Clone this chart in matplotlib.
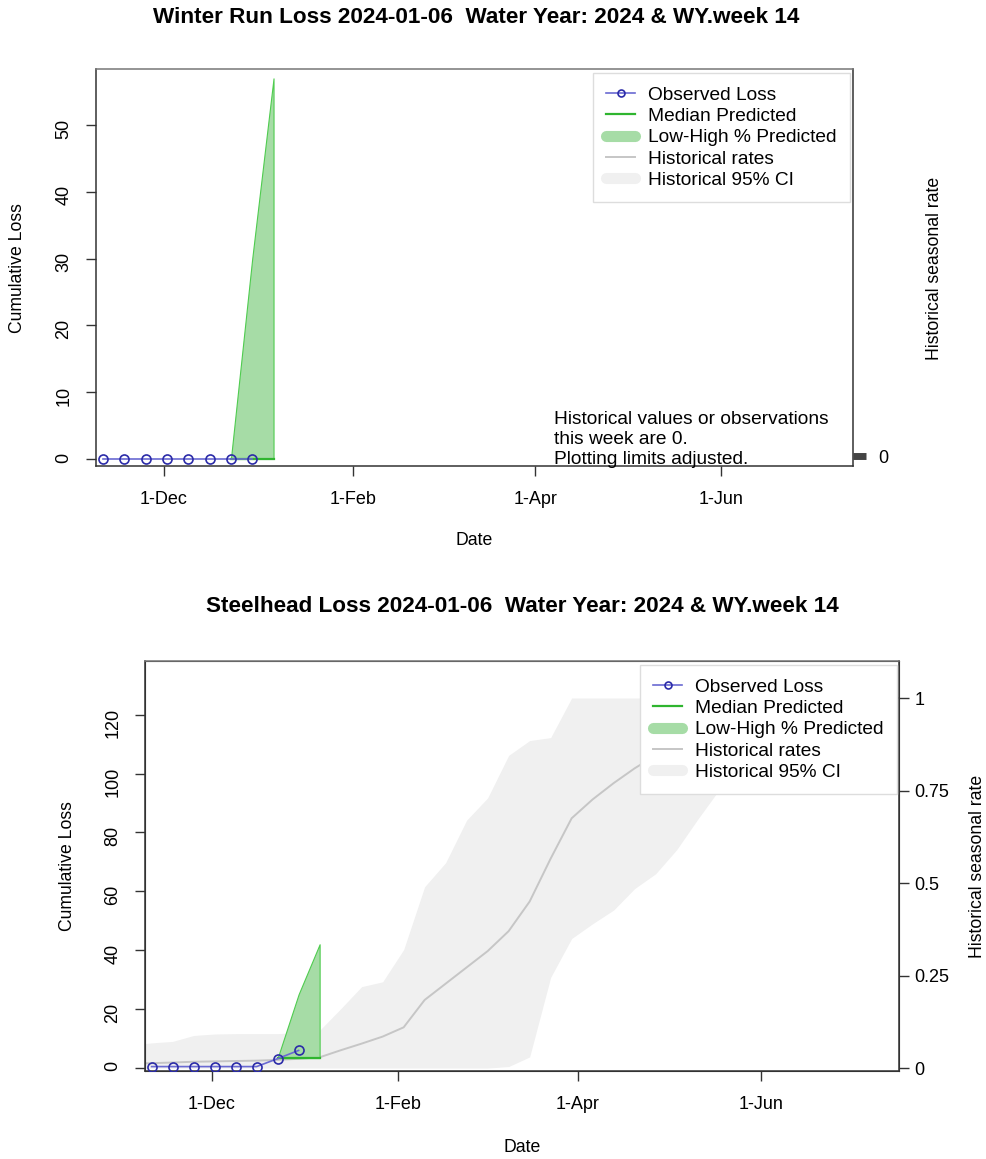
import numpy as np
import matplotlib
matplotlib.use("Agg")
import matplotlib.pyplot as plt
import matplotlib.dates as mdates
from matplotlib.lines import Line2D
from datetime import datetime, timedelta

plt.rcParams['font.family'] = ['Liberation Sans', 'DejaVu Sans']

# ---- data ----
obs_dates = [datetime(2023, 11, 11) + timedelta(days=7 * i) for i in range(8)]
wr_observed = [0, 0, 0, 0, 0, 0, 0, 0]
sh_observed = [0.4, 0.4, 0.4, 0.4, 0.4, 0.4, 3.1, 5.9]

pred_dates = [datetime(2023, 12, 23), datetime(2023, 12, 30), datetime(2024, 1, 6)]
wr_median = [0, 0, 0]
wr_low = [0, 0, 0]
wr_high = [0, 30, 57]
sh_median = [3.3, 3.3, 3.3]
sh_low = [3.3, 3.3, 3.3]
sh_high = [3.3, 25, 42]

# historical seasonal rate for steelhead (weekly, Nov 4 .. Jul 20)
hist_dates = [datetime(2023, 11, 4) + timedelta(days=7 * i) for i in range(38)]
hist_rate = [0.012, 0.013, 0.015, 0.017, 0.018, 0.019, 0.020, 0.022, 0.025, 0.029,
             0.048, 0.066, 0.085, 0.110, 0.184, 0.228, 0.272, 0.316, 0.370, 0.450,
             0.566, 0.675, 0.726, 0.770, 0.810, 0.845, 0.880, 0.915, 0.945, 0.970,
             0.990, 1.0, 1.0, 1.0, 1.0, 1.0, 1.0, 1.0]
hist_hi = [0.062, 0.068, 0.072, 0.088, 0.092, 0.093, 0.093, 0.093, 0.096, 0.102,
           0.160, 0.220, 0.233, 0.320, 0.490, 0.555, 0.670, 0.730, 0.845, 0.885,
           0.893, 1.0, 1.0, 1.0, 1.0, 1.0, 1.0, 1.0, 1.0, 1.0,
           1.0, 1.0, 1.0, 1.0, 1.0, 1.0, 1.0, 1.0]
hist_lo = [0.0, 0.0, 0.0, 0.0, 0.0, 0.0, 0.0, 0.0, 0.0, 0.0,
           0.0, 0.0, 0.0, 0.0, 0.0, 0.0, 0.0, 0.0, 0.004, 0.030,
           0.245, 0.350, 0.390, 0.427, 0.485, 0.525, 0.590, 0.672, 0.750, 0.840,
           0.920, 0.970, 1.0, 1.0, 1.0, 1.0, 1.0, 1.0]

tick_dates = [datetime(2023, 12, 1), datetime(2024, 2, 1), datetime(2024, 4, 1), datetime(2024, 6, 1)]
tick_labels = ['1-Dec', '1-Feb', '1-Apr', '1-Jun']
legend_labels = ['Observed Loss', 'Median Predicted', 'Low-High % Predicted',
                 'Historical rates', 'Historical 95% CI']

# ---- styles ----
obs_line = '#6a6ad2'
obs_edge = '#2b2ba8'
med_col = '#2fb52f'
fill_col = '#a6dca6'
fill_edge = '#4fcc4f'
band_col = '#f0f0f0'
hline_col = '#c6c6c6'
fs_tick = 13
fs_lab = 12.7
fs_leg = 13.8
fs_title = 16.2

fig = plt.figure(figsize=(9.87, 11.59), dpi=100)
W, H = 987.0, 1159.0


def px_axes(l, t, r, b):
    return [l / W, 1 - b / H, (r - l) / W, (b - t) / H]


def style_axes(ax):
    for s in ax.spines.values():
        s.set_color('#333333')
        s.set_linewidth(1.1)
    ax.spines['top'].set_color('#777777')
    ax.tick_params(axis='both', direction='out', length=7, width=1, color='#333333',
                   labelsize=fs_tick)
    ax.tick_params(axis='x', pad=11)
    ax.tick_params(axis='y', labelrotation=90, pad=10)
    ax.set_xticks([mdates.date2num(d) for d in tick_dates])
    ax.set_xticklabels(tick_labels)


def legend_handles():
    return [Line2D([], [], color=obs_line, lw=1.2, marker='o', ms=5, mfc='none', mec=obs_edge, mew=1.2),
            Line2D([], [], color=med_col, lw=1.6),
            Line2D([], [], color=fill_col, lw=8, solid_capstyle='round'),
            Line2D([], [], color=hline_col, lw=1.4),
            Line2D([], [], color=band_col, lw=8, solid_capstyle='round')]


def add_legend(ax, anchor):
    leg = ax.legend(legend_handles(), legend_labels, loc='upper left', bbox_to_anchor=anchor,
                    fontsize=fs_leg, frameon=True, fancybox=False, framealpha=1,
                    edgecolor='#dddddd', handlelength=1.5, handletextpad=0.65,
                    labelspacing=0.2, borderpad=0.7, borderaxespad=0)
    leg.get_frame().set_linewidth(1.0)
    leg.set_zorder(20)


def x_num(dates):
    return mdates.date2num(dates)


# ================= top panel: Winter Run =================
ax1 = fig.add_axes(px_axes(96, 69, 853, 466))
tw1 = ax1.twinx()
ax1.set_zorder(tw1.get_zorder() + 1)
ax1.patch.set_visible(False)

ax1.fill_between(x_num(pred_dates), wr_low, wr_high, color=fill_col, edgecolor=fill_edge, lw=0.8, zorder=2)
ax1.plot(x_num(pred_dates), wr_median, color=med_col, lw=1.6, zorder=3)
ax1.plot(x_num(obs_dates), wr_observed, color=obs_line, lw=1.2, marker='o', ms=6.5,
         mfc='none', mec=obs_edge, mew=1.2, zorder=4)

ref = mdates.date2num(datetime(2023, 12, 1))
ax1.set_xlim(ref - 22.3, ref + 226.3)
ax1.set_ylim(-1.05, 58.4)
ax1.set_yticks([0, 10, 20, 30, 40, 50])
style_axes(ax1)

tw1.set_ylim(-0.025, 0.975)
tw1.set_yticks([0])
tw1.set_yticklabels(['0'])
tw1.tick_params(axis='y', direction='out', length=9, width=5, color='#444444', labelsize=fs_tick, pad=9)
for s in tw1.spines.values():
    s.set_visible(False)

ax1.text(0.605, 0.138, 'Historical values or observations\nthis week are 0.\nPlotting limits adjusted.',
         transform=ax1.transAxes, ha='left', va='top', fontsize=fs_leg, linespacing=1.24, zorder=10)
add_legend(ax1, (0.6566, 0.99))

fig.text(0.4823, 0.9845, 'Winter Run Loss 2024-01-06  Water Year: 2024 & WY.week 14',
         ha='center', va='center', fontsize=fs_title, fontweight='bold')
fig.text(18 / W, 1 - 268 / H, 'Cumulative Loss', rotation=90, ha='center', va='center', fontsize=fs_lab)
fig.text(474.5 / W, 1 - 540 / H, 'Date', ha='center', va='center', fontsize=fs_lab)
fig.text(935 / W, 1 - 268 / H, 'Historical seasonal rate', rotation=90, ha='center', va='center', fontsize=fs_lab)

# ================= bottom panel: Steelhead =================
ax2 = fig.add_axes(px_axes(145, 661, 899, 1071))
tw2 = ax2.twinx()
ax2.set_zorder(tw2.get_zorder() + 1)
ax2.patch.set_visible(False)

tw2.fill_between(x_num(hist_dates), hist_lo, hist_hi, color=band_col, lw=0, zorder=1)
tw2.plot(x_num(hist_dates), hist_rate, color=hline_col, lw=1.4, zorder=2)
tw2.set_ylim(-0.008, 1.1)
tw2.set_yticks([0, 0.25, 0.5, 0.75, 1])
tw2.set_yticklabels(['0', '0.25', '0.5', '0.75', '1'])
tw2.tick_params(axis='y', direction='out', length=7, width=1, color='#333333', labelsize=fs_tick, pad=4)
for s in tw2.spines.values():
    s.set_color('#333333')

ax2.fill_between(x_num(pred_dates), sh_low, sh_high, color=fill_col, edgecolor=fill_edge, lw=0.8, zorder=2)
ax2.plot(x_num(pred_dates), sh_median, color=med_col, lw=1.6, zorder=3)
ax2.plot(x_num(obs_dates), sh_observed, color=obs_line, lw=1.2, marker='o', ms=6.5,
         mfc='none', mec=obs_edge, mew=1.2, zorder=4)

ax2.set_xlim(ref - 22.2, ref + 229.1)
ax2.set_ylim(-1.1, 138.3)
ax2.set_yticks([0, 20, 40, 60, 80, 100, 120])
style_axes(ax2)
add_legend(ax2, (0.6565, 0.99))

fig.text(522.5 / W, 1 - 607 / H, 'Steelhead Loss 2024-01-06  Water Year: 2024 & WY.week 14',
         ha='center', va='center', fontsize=fs_title, fontweight='bold')
fig.text(68 / W, 1 - 866 / H, 'Cumulative Loss', rotation=90, ha='center', va='center', fontsize=fs_lab)
fig.text(522 / W, 1 - 1147 / H, 'Date', ha='center', va='center', fontsize=fs_lab)
fig.text(978 / W, 1 - 866 / H, 'Historical seasonal rate', rotation=90, ha='center', va='center', fontsize=fs_lab)

fig.savefig('out.png', dpi=100)
